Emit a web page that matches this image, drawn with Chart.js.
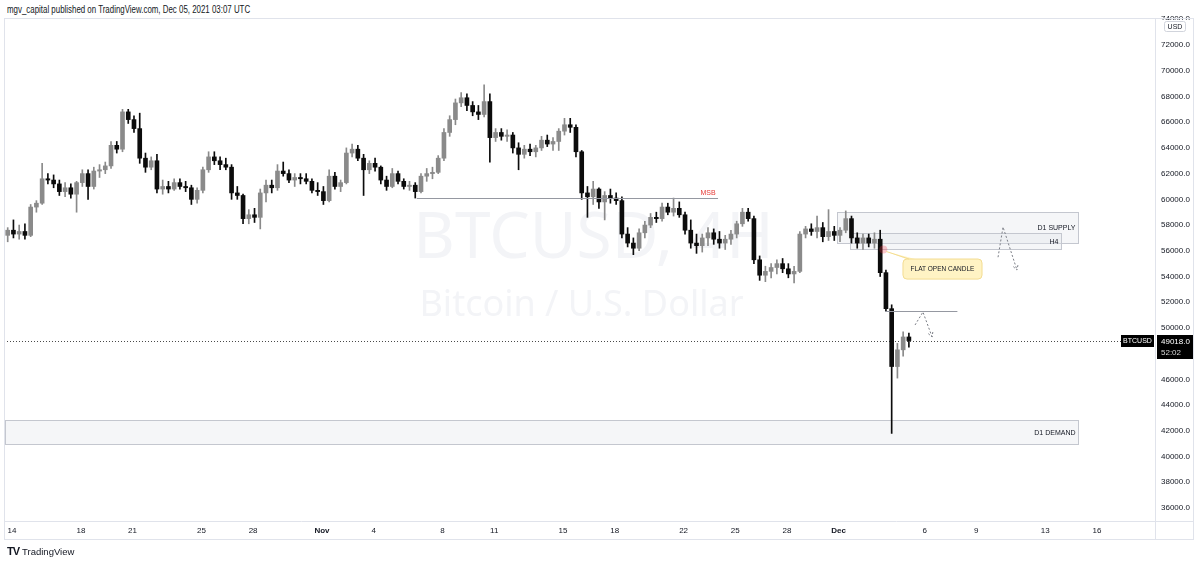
<!DOCTYPE html>
<html lang="en">
<head>
<meta charset="UTF-8">
<title>BTCUSD 4H</title>
<script src="https://cdn.jsdelivr.net/npm/chart.js"></script>
<style>
  html, body { margin: 0; padding: 0; background: #fff; }
  body { width: 1200px; height: 563px; position: relative; overflow: hidden; font-family: "Liberation Sans", Arial, sans-serif; }
  #chart { position: absolute; left: 0; top: 0; }
  #header { position: absolute; left: 7px; top: 4px; font-size: 10px; color: #131722; white-space: nowrap; transform: scaleX(0.79); transform-origin: left top; }
  #footer { position: absolute; left: 7px; top: 545px; font-size: 9.5px; color: #131722; white-space: nowrap; }
  #footer b { font-size: 11px; letter-spacing: -1px; margin-right: 3px; }
</style>
</head>
<body>
<div id="header">mgv_capital published on TradingView.com, Dec 05, 2021 03:07 UTC</div>
<canvas id="chart" width="1200" height="563"></canvas>
<div id="footer"><b>TV</b>TradingView</div>

<script>
// time axis: days counted from Oct 0 (Oct 14 = 14, Nov 1 = 32, Dec 1 = 62)
const firstCandleDay = 13 + 2/3 + 1/12;   // 8h candles, first one opens Oct 13 16:00 UTC
const candleStep = 1/3;

const tickDays   = [14, 18, 21, 25, 28, 32, 35, 39, 42, 46, 49, 53, 56, 59, 62, 67, 70, 74, 77];
const tickLabels = ['14','18','21','25','28','Nov','4','8','11','15','18','22','25','28','Dec','6','9','13','16'];
const priceTicks = [36000, 38000, 40000, 42000, 44000, 46000, 48000, 50000, 52000, 54000,
                    56000, 58000, 60000, 62000, 64000, 66000, 68000, 70000, 72000, 74000];

const opens = [
  57200,57600,57300,57500,57200,59400,59700,61600,61500,61200,60600,60900,60400,61300,62000,61000,62200,62300,62600,64200,
  63900,66800,66200,65500,63200,62500,63000,60800,61000,60800,61300,61000,60900,60000,60700,62300,63300,63000,62700,62500,
  60500,60300,58500,58800,58600,60500,61100,60900,62200,62000,61500,61700,61600,61400,60700,60600,59900,61800,61000,61300,
  63600,63900,63200,62300,62800,62500,61500,61000,62000,61400,61000,61100,60600,61800,62000,62100,63200,65200,66200,67500,
  67900,67300,66800,66600,67600,64800,65200,64900,65000,64000,63500,63900,63700,64000,64600,64300,64500,65300,65800,65600,
  63700,60500,60200,60800,59800,60300,60100,59900,57300,56600,56200,57400,58000,58600,58500,59400,59000,59300,58800,57600,
  56600,56400,57000,57400,56900,56600,56900,57300,58100,59000,58500,55300,54100,54400,54700,55000,54600,54200,54400,57300,
  57700,57500,57800,57100,57500,57200,57600,58500,57000,56600,57000,56600,56900,54300,51500,47000,48300,49300
];
const highs = [
  57800,58400,58000,58100,59600,59900,62800,62000,61900,61500,61300,61200,61400,62300,62300,62500,62700,62900,64500,64500,
  67000,67000,66500,66700,63600,63300,63500,61500,61400,61600,61600,61400,61100,60900,62500,63700,63700,63300,63200,62700,
  61000,60400,59200,59300,60800,61500,61500,62700,62900,62300,62000,62000,62000,61600,61300,61000,62300,62100,61500,64000,
  64300,64200,63500,63000,63200,62600,61800,62400,62200,61600,61400,61300,62000,62400,62500,63400,65500,66500,67800,68300,
  68200,67600,67300,68900,68200,65500,65500,65400,65200,64400,64200,64300,64200,64900,65000,64800,65500,66300,66300,65800,
  63800,61000,61400,60900,60600,60800,60500,60200,57800,57000,57700,58300,58900,59000,59700,59700,60100,59800,59000,58400,
  57300,57300,57800,57700,57500,57200,57600,58300,59300,59300,58700,55600,54800,55000,55300,55400,55000,54800,57500,57900,
  58100,58700,58200,59200,57900,57800,59100,58700,57400,57300,57300,57400,57600,54500,51800,48800,49700,49600
];
const lows = [
  56700,57000,56900,56900,57100,59000,59600,61200,60900,60300,60200,60100,59000,61000,60000,60800,61700,62000,62400,63600,
  63700,65900,65200,62800,62100,62300,60500,60400,60500,60700,60800,60600,59600,59700,60500,62100,62700,62300,62300,60000,
  60000,58100,58100,58200,57700,59800,60500,60700,61800,61300,61000,61200,61200,60500,60300,59600,59800,60800,60600,61200,
  63300,63000,60300,62000,62200,61200,60700,60900,61200,60800,60700,60100,60500,61400,61600,62000,63000,64900,65800,67200,
  66900,66500,66200,66400,62900,64500,64600,64500,63600,62300,63200,63400,63300,63800,64100,63800,63800,65000,65200,63300,
  60000,58600,59600,59300,58400,59700,59600,57000,56300,55700,56000,57000,57800,58200,58300,58800,58700,58600,57300,56200,
  55800,55900,56400,56500,56200,56100,56500,57000,57900,58300,55000,53700,53600,53900,54200,54300,53900,53500,54300,57000,
  57200,57000,56700,56800,56800,56700,57400,56600,56200,56100,56300,56200,54000,51300,41800,46100,47800,48500
];
const closes = [
  57600,57300,57500,57200,59400,59700,61600,61500,61200,60600,60900,60400,61300,62000,61000,62200,62300,62600,64200,63900,
  66800,66200,65500,63200,62500,63000,60800,61000,60800,61300,61000,60900,60000,60700,62300,63300,63000,62700,62500,60500,
  60300,58500,58800,58600,60500,61100,60900,62200,62000,61500,61700,61600,61400,60700,60600,59900,61800,61000,61300,63600,
  63900,63200,62300,62800,62500,61500,61000,62000,61400,61000,61100,60600,61800,62000,62100,63200,65200,66200,67500,67900,
  67300,66800,66600,67600,64800,65200,64900,65000,64000,63500,63900,63700,64000,64600,64300,64500,65300,65800,65600,63700,
  60500,60200,60800,59800,60300,60100,59900,57300,56600,56200,57400,58000,58600,58500,59400,59000,59300,58800,57600,56600,
  56400,57000,57400,56900,56600,56900,57300,58100,59000,58500,55300,54100,54400,54700,55000,54600,54200,54400,57300,57700,
  57500,57800,57100,57500,57200,57600,58500,57000,56600,57000,56600,56900,54300,51500,47000,48300,49300,49018
];

const lastPrice = 49018;
const countdown = '52:02';
const symbol = 'BTCUSD';
const watermarkTitle = 'BTCUSD, 4H';
const watermarkSub = 'Bitcoin / U.S. Dollar';

// drawings on the chart, in (day, price)
const zones = [
  { from: 61.9, to: 75.9, top: 59000, bottom: 56600, label: 'D1 SUPPLY' },
  { from: 62.65, to: 74.9, top: 57400, bottom: 56150, label: 'H4' },
  { from: 13.6, to: 75.9, top: 42850, bottom: 40950, label: 'D1 DEMAND' }
];
const msbLine = { from: 37.5, to: 55.0, price: 60100, label: 'MSB' };
const breakLine = { from: 64.7, to: 68.9, price: 51300 };
const arrowPaths = [
  [[71.26, 55500], [71.55, 57850], [72.36, 54500]],
  [[66.44, 50230], [66.90, 51240], [67.43, 49300]]
];
const flatOpen = { day: 64.6, price: 56100 };
const callout = { from: 65.74, to: 70.33, top: 55360, bottom: 53800, text: 'FLAT OPEN CANDLE' };

const upColor = '#8a8a8a';
const downColor = '#0c0c0c';

const xs = closes.map((_, i) => firstCandleDay + i * candleStep);
const wickData = xs.map((x, i) => ({ x, y: [lows[i], highs[i]] }));
const bodyData = xs.map((x, i) => ({ x, y: [opens[i], closes[i]] }));
const candleColor = c => closes[c.dataIndex] >= opens[c.dataIndex] ? upColor : downColor;

function drawArrowHead(ctx, x1, y1, x2, y2) {
  const ang = Math.atan2(y2 - y1, x2 - x1);
  const len = 5;
  ctx.beginPath();
  ctx.moveTo(x2 - len * Math.cos(ang - 0.5), y2 - len * Math.sin(ang - 0.5));
  ctx.lineTo(x2, y2);
  ctx.lineTo(x2 - len * Math.cos(ang + 0.5), y2 - len * Math.sin(ang + 0.5));
  ctx.stroke();
}

const overlay = {
  id: 'overlay',
  beforeDatasetsDraw(chart) {
    const { ctx, chartArea: a, scales: { x, y } } = chart;
    ctx.save();
    ctx.beginPath();
    ctx.rect(a.left, a.top, a.right - a.left, a.bottom - a.top);
    ctx.clip();

    // watermark
    const cx = (a.left + a.right) / 2, cy = (a.top + a.bottom) / 2;
    ctx.fillStyle = '#f3f4f7';
    ctx.textAlign = 'center';
    ctx.textBaseline = 'middle';
    ctx.font = '64px "Noto Sans", sans-serif';
    ctx.fillText(watermarkTitle, cx + 14, cy - 30);
    ctx.font = '36px "Noto Sans", sans-serif';
    ctx.fillText(watermarkSub, cx + 2, cy + 36);

    // supply / demand boxes
    ctx.font = '7px "Liberation Sans", sans-serif';
    ctx.textAlign = 'right';
    zones.forEach(z => {
      const l = Math.round(x.getPixelForValue(z.from)) + 0.5;
      const r = Math.round(x.getPixelForValue(z.to)) + 0.5;
      const t = Math.round(y.getPixelForValue(z.top)) + 0.5;
      const b = Math.round(y.getPixelForValue(z.bottom)) + 0.5;
      ctx.fillStyle = 'rgba(225,228,235,0.35)';
      ctx.fillRect(l, t, r - l, b - t);
      ctx.strokeStyle = '#c4c7cf';
      ctx.lineWidth = 1;
      ctx.strokeRect(l, t, r - l, b - t);
      ctx.fillStyle = '#131722';
      ctx.fillText(z.label, r - 3, (t + b) / 2 + 0.5);
    });

    // last price dotted line
    const py = Math.round(y.getPixelForValue(lastPrice)) + 0.5;
    ctx.strokeStyle = '#4a4a4a';
    ctx.setLineDash([1, 2]);
    ctx.beginPath();
    ctx.moveTo(a.left, py);
    ctx.lineTo(a.right, py);
    ctx.stroke();
    ctx.restore();
  },
  afterDatasetsDraw(chart) {
    const { ctx, chartArea: a, scales: { x, y } } = chart;
    ctx.save();
    ctx.lineWidth = 1;

    // MSB line
    const my = Math.round(y.getPixelForValue(msbLine.price)) + 0.5;
    const mr = x.getPixelForValue(msbLine.to);
    ctx.strokeStyle = '#9598a1';
    ctx.beginPath();
    ctx.moveTo(x.getPixelForValue(msbLine.from), my);
    ctx.lineTo(mr, my);
    ctx.stroke();
    ctx.fillStyle = '#e53935';
    ctx.font = '7px "Liberation Sans", sans-serif';
    ctx.textAlign = 'center';
    ctx.textBaseline = 'bottom';
    ctx.fillText(msbLine.label, mr - 10, my - 2);

    // broken-structure line
    const by = Math.round(y.getPixelForValue(breakLine.price)) + 0.5;
    ctx.strokeStyle = '#9598a1';
    ctx.beginPath();
    ctx.moveTo(x.getPixelForValue(breakLine.from), by);
    ctx.lineTo(x.getPixelForValue(breakLine.to), by);
    ctx.stroke();

    // dotted arrows
    ctx.strokeStyle = '#7a7d85';
    ctx.setLineDash([2, 2]);
    arrowPaths.forEach(p => {
      const pts = p.map(([d, v]) => [x.getPixelForValue(d), y.getPixelForValue(v)]);
      ctx.beginPath();
      pts.forEach(([px, py], i) => i ? ctx.lineTo(px, py) : ctx.moveTo(px, py));
      ctx.stroke();
      const [p1, p2] = pts.slice(-2);
      drawArrowHead(ctx, p1[0], p1[1], p2[0], p2[1]);
    });
    ctx.setLineDash([]);

    // flat open marker + callout
    const fx = x.getPixelForValue(flatOpen.day), fy = y.getPixelForValue(flatOpen.price);
    ctx.fillStyle = 'rgba(242,54,69,0.28)';
    ctx.beginPath();
    ctx.arc(fx, fy, 4, 0, Math.PI * 2);
    ctx.fill();

    const cl = x.getPixelForValue(callout.from), cr = x.getPixelForValue(callout.to);
    const ct = y.getPixelForValue(callout.top), cb = y.getPixelForValue(callout.bottom);
    ctx.fillStyle = '#fff3c4';
    ctx.strokeStyle = '#f3dc91';
    ctx.beginPath();
    ctx.moveTo(fx + 3, fy + 2);
    ctx.lineTo(cl + 6, ct + 1);
    ctx.lineTo(cl + 16, ct + 1);
    ctx.closePath();
    ctx.fill();
    ctx.beginPath();
    ctx.roundRect(cl, ct, cr - cl, cb - ct, 4);
    ctx.fill();
    ctx.stroke();
    ctx.beginPath();
    ctx.moveTo(fx + 3, fy + 2);
    ctx.lineTo(cl + 6, ct);
    ctx.stroke();
    ctx.fillStyle = '#131722';
    ctx.font = '6.5px "Liberation Sans", sans-serif';
    ctx.textAlign = 'center';
    ctx.textBaseline = 'middle';
    ctx.fillText(callout.text, (cl + cr) / 2, (ct + cb) / 2 + 0.5);
    ctx.restore();
  },
  afterDraw(chart) {
    const { ctx, chartArea: a, scales: { y } } = chart;
    ctx.save();
    // pane frame
    ctx.strokeStyle = '#e0e3eb';
    ctx.lineWidth = 1;
    ctx.strokeRect(4.5, 18.5, 1189, 521);
    ctx.beginPath();
    ctx.moveTo(4, a.bottom + 0.5); ctx.lineTo(1194, a.bottom + 0.5);
    ctx.moveTo(a.right + 0.5, 18); ctx.lineTo(a.right + 0.5, 540);
    ctx.stroke();

    // USD badge
    ctx.fillStyle = '#fff';
    ctx.fillRect(a.right + 2, 20, 36, 13);
    ctx.strokeStyle = '#d1d4dc';
    ctx.beginPath();
    ctx.roundRect(a.right + 9.5, 21.5, 21, 10, 2);
    ctx.stroke();
    ctx.fillStyle = '#131722';
    ctx.font = '7px "Liberation Sans", sans-serif';
    ctx.textAlign = 'center';
    ctx.textBaseline = 'middle';
    ctx.fillText('USD', a.right + 20, 27);

    // last price labels
    const py = Math.round(y.getPixelForValue(lastPrice));
    ctx.fillStyle = '#000';
    ctx.fillRect(a.right - 34, py - 6, 33, 12);
    ctx.fillRect(a.right + 2, py - 6, 36, 24);
    ctx.fillStyle = '#fff';
    ctx.fillText(symbol, a.right - 17.5, py + 0.5);
    ctx.font = '8px "Liberation Sans", sans-serif';
    ctx.textAlign = 'left';
    ctx.fillText(lastPrice.toFixed(1), a.right + 6, py + 0.5);
    ctx.fillStyle = '#d6d6d6';
    ctx.fillText(countdown, a.right + 6, py + 11.5);
    ctx.restore();
  }
};

new Chart(document.getElementById('chart'), {
  type: 'bar',
  data: {
    datasets: [
      { data: wickData, barThickness: 1, grouped: false, backgroundColor: candleColor, borderWidth: 0, order: 2 },
      { data: bodyData, barThickness: 4, grouped: false, backgroundColor: candleColor, borderWidth: 0, minBarLength: 1, order: 1 }
    ]
  },
  options: {
    responsive: false,
    animation: false,
    events: [],
    layout: { padding: { left: 4, top: 18, right: 0, bottom: 24 } },
    plugins: { legend: { display: false }, tooltip: { enabled: false } },
    scales: {
      x: {
        type: 'linear',
        min: 13.535,
        max: 80.375,
        offset: false,
        grid: { display: false, drawTicks: false },
        border: { display: false },
        afterBuildTicks: s => { s.ticks = tickDays.map(v => ({ value: v })); },
        afterFit: s => { s.height = 18; },
        ticks: {
          autoSkip: false,
          maxRotation: 0,
          padding: 5,
          color: '#131722',
          font: c => ({ family: '"Liberation Sans", sans-serif', size: 8,
                        weight: (c.tick && /[A-Za-z]/.test(c.tick.label)) ? 'bold' : 'normal' }),
          callback: v => tickLabels[tickDays.indexOf(v)]
        }
      },
      y: {
        position: 'right',
        min: 34990,
        max: 74100,
        grid: { display: false, drawTicks: false },
        border: { display: false },
        afterBuildTicks: s => { s.ticks = priceTicks.map(v => ({ value: v })); },
        afterFit: s => { s.width = 45; },
        ticks: {
          padding: 6,
          color: '#131722',
          font: { family: '"Liberation Sans", sans-serif', size: 8 },
          callback: v => Number(v).toFixed(1)
        }
      }
    }
  },
  plugins: [overlay]
});
</script>
</body>
</html>
